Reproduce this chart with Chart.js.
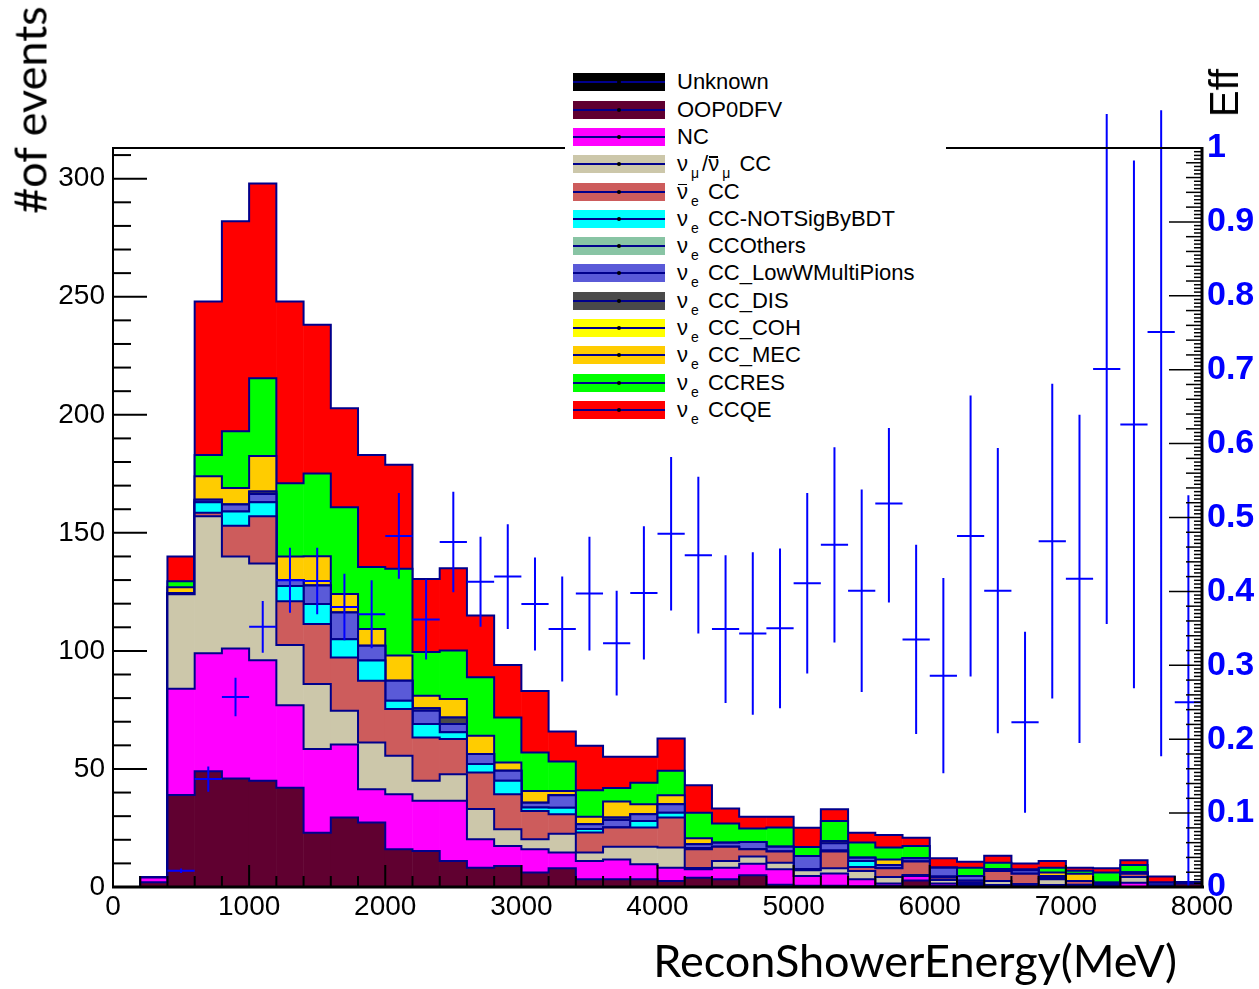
<!DOCTYPE html>
<html>
<head>
<meta charset="utf-8">
<script src="https://cdn.jsdelivr.net/npm/chart.js@4.4.0/dist/chart.umd.min.js"></script>
<style>
html,body{margin:0;padding:0;background:#fff;}
#wrap{position:relative;width:1259px;height:989px;overflow:hidden;background:#fff;}
#c{position:absolute;left:0;top:0;}
.title{position:absolute;white-space:nowrap;color:#000;}
#ytitle{left:30px;top:110px;transform:translate(-50%,-50%) rotate(-90deg);font-family:Lato,sans-serif;font-size:45px;line-height:45px;}
#xtitle{right:82px;top:938px;font-family:Lato,sans-serif;font-size:45px;line-height:45px;}
#efftitle{left:1224px;top:93px;transform:translate(-50%,-50%) rotate(-90deg);font-family:'Liberation Sans',Arial,sans-serif;font-size:40px;line-height:40px;}
#legend{position:absolute;left:565px;top:62px;width:381px;height:366px;background:#fff;}
.row{position:absolute;left:0;width:381px;height:27px;}
.sw{position:absolute;left:8px;top:0;width:92px;height:18px;}
.sw .ln{position:absolute;left:0;right:0;top:8px;height:2px;background:#00008c;}
.sw .dot{position:absolute;left:44px;top:7px;width:4px;height:4px;background:#000;border-radius:2px;}
.lab{position:absolute;left:112px;top:-2px;font-family:'Liberation Sans',Arial,sans-serif;font-size:22px;line-height:22px;white-space:nowrap;color:#000;}
.lab sub{font-size:14px;vertical-align:-7px;line-height:0;margin:0 3px 0 3px;}
.ob{position:relative;display:inline-block;}
.ob::after{content:'';position:absolute;left:1px;right:1px;top:3px;height:1.5px;background:#000;}
</style>
</head>
<body>
<div id="wrap">
<canvas id="c" width="1259" height="989"></canvas>
<div id="ytitle" class="title">#of events</div>
<div id="xtitle" class="title">ReconShowerEnergy(MeV)</div>
<div id="efftitle" class="title">Eff</div>
<div id="legend"></div>
</div>
<script>
// ---------------- data ----------------
const binLow    = [200,400,600,800,1000,1200,1400,1600,1800,2000,2200,2400,2600,2800,3000,3200,3400,3600,3800,4000,4200,4400,4600,4800,5000,5200,5400,5600,5800,6000,6200,6400,6600,6800,7000,7200,7400,7600,7800];
const binCenter = [300,500,700,900,1100,1300,1500,1700,1900,2100,2300,2500,2700,2900,3100,3300,3500,3700,3900,4100,4300,4500,4700,4900,5100,5300,5500,5700,5900,6100,6300,6500,6700,6900,7100,7300,7500,7700,7900];
const binHigh   = [400,600,800,1000,1200,1400,1600,1800,2000,2200,2400,2600,2800,3000,3200,3400,3600,3800,4000,4200,4400,4600,4800,5000,5200,5400,5600,5800,6000,6200,6400,6600,6800,7000,7200,7400,7600,7800,8000];

const unknownEv = [0,0,0,0,0,0,0,0,0,0,0,0,0,0,0,0,0,0,0,0,0,0,0,0,0,0,0,0,0,0,0,0,0,0,0,0,0,0,0];
const oopEv     = [2,39,49,46,45,42,23,29.4,27.3,16,15.3,11,8.2,8.9,6.1,7.9,3.3,3.3,3.3,2.5,3.9,3.3,5,1,0.5,0.5,0.3,0.5,2.8,0.5,0.5,0.3,0.3,0.3,0.2,0.2,0,0,1.5];
const ncEv      = [2,45,50,55,51,35,35.4,31,14.1,23.3,21.2,25.5,12,8.5,9.9,6.7,7.7,8.4,6.3,5.7,3.6,4.9,4.9,6.5,4.2,5.2,3,1,1.9,1,0.8,0.5,0.5,0.5,0.3,0.3,1.8,0.5,0.5];
const numuEv    = [0,40,58,39,41,25.5,27.6,14.2,19.8,16.3,8.5,11.3,12.8,7.1,4.2,8,3.6,5.3,7.4,8.5,0.5,2.8,3,2.8,2.4,2.2,3.5,2.7,0.4,1.5,0.6,1.7,0.5,2.5,0.5,0.3,2.4,0,0];
const nuebarEv  = [0,0.5,1.5,13,20,18.5,25.4,22.6,26.2,19.8,18.3,14.9,15.5,14.8,12,8.2,8.5,8.2,8.2,12.7,8,6,3.1,4.7,0.5,7.1,1.7,3.7,5.7,1,0.7,4.3,4.3,0.4,1.5,0.5,1.4,0,0];
const notSigEv  = [0,0,4.5,6,6,6.5,8.5,7.7,8.5,3.5,5.7,2.8,3.6,5.7,1.5,2.8,1.5,0,2.8,2.1,0.5,0,0,0,0,0.5,2.5,0,0,0.5,0,0,0,0,0,0,0,0,0];
const othersEv  = [0,0,0,0,0,0,0,0,0,0,0,0,0,0,0,0,0,0,0,0,0,0,0,0,0,0,0,0,0,0,0,0,0,0,0,0,0,0,0];
const lowWEv    = [0,0,1,3,3.5,2.5,7.8,11.4,6.3,8.5,5.7,3.5,4.2,4.2,2,5.3,2,3.2,2.8,3.6,1.6,1.7,3.1,2,5.5,3,1.4,1.4,1.4,3.7,2.1,0.7,1.5,1,0,0.5,0.5,1.3,0];
const disEv     = [0,0,0,0,1,0,0,0,0,0,1,2.8,0,0,0,0,0,1,0,0,0,0,0,0,0,1,0,0,0,0,0,0,0,0,0,0,0,0,0];
const cohEv     = [0,0,0,0,0,0,0,0,0,0,0,0,0,0,0,0,0,0,0,0,0,0,0,0,0,0,0,0,0,0,0,0,0,0,0,0,0,0,0];
const mecEv     = [0,2.5,10,7,15,10,12.4,7.8,7.1,10.6,5.3,7.8,7.8,3.5,5,1.8,3.2,6.8,4.3,3.8,2.6,0,0,0,0,0,0,2.4,0,0,0,0,0,1.4,3.1,0,0,0,0];
const resEv     = [0,2.5,9,24,33,31,35,36.7,26.2,36.8,18.5,20.6,24.7,19.1,16.3,12.5,11.2,5.7,9.1,10.3,10.8,8.2,5.7,8.2,3.8,8.5,6.4,5,5.2,0,3.5,2.8,0.4,2.1,1.3,4.3,3.2,0,0];
const qeEv      = [0,10.5,65,89,82.5,77,63,42,47.5,44,31,34.8,26.2,22.2,26,12.7,18.8,13.3,11,13.7,11.6,6.3,5,4.6,8.2,4.9,4.2,5.3,3.5,4,2.5,2.9,2.5,2.8,1.3,1.8,2,2.6,0];

const effVal     = [null,0.022,0.146,0.257,0.352,0.415,0.414,0.379,0.369,0.475,0.362,0.467,0.413,0.420,0.383,0.349,0.397,0.330,0.398,0.478,0.449,0.349,0.343,0.350,0.411,0.463,0.401,0.519,0.335,0.286,0.475,0.401,0.223,0.468,0.417,0.701,0.626,0.751,0.250];
const effErrLow  = [null,0.003,0.017,0.026,0.035,0.044,0.045,0.045,0.046,0.058,0.054,0.068,0.061,0.071,0.063,0.071,0.077,0.071,0.090,0.104,0.106,0.100,0.110,0.108,0.122,0.132,0.137,0.134,0.128,0.132,0.190,0.193,0.1225,0.213,0.222,0.345,0.357,0.574,0.250];
const effErrHigh = [null,0.003,0.017,0.026,0.035,0.044,0.045,0.045,0.046,0.058,0.054,0.068,0.061,0.071,0.063,0.071,0.077,0.071,0.090,0.104,0.106,0.100,0.110,0.108,0.122,0.132,0.137,0.134,0.128,0.132,0.190,0.193,0.1225,0.213,0.222,0.345,0.357,0.300,0.280];

const yTickStep = 50, xTickStep = 1000, effTickStep = 0.1;

const layerNames = ['Unknown','OOP0DFV','NC','numu CC','nuebar CC','nue CC-NOTSigByBDT','nue CCOthers','nue CC_LowWMultiPions','nue CC_DIS','nue CC_COH','nue CC_MEC','nue CCRES','nue CCQE'];
const layerData  = [unknownEv,oopEv,ncEv,numuEv,nuebarEv,notSigEv,othersEv,lowWEv,disEv,cohEv,mecEv,resEv,qeEv];
const layerColors = ['#000000','#600030','#ff00ff','#ccc7aa','#cd5c5c','#00ffff','#88c4a4','#5a5ad8','#4a4a4a','#ffff00','#ffcc00','#00ff00','#ff0000'];
const legendHtml = [
  'Unknown','OOP0DFV','NC',
  '&nu;<sub>&mu;</sub>/<span class="ob">&nu;</span><sub>&mu;</sub> CC',
  '<span class="ob">&nu;</span><sub>e</sub> CC',
  '&nu;<sub>e</sub> CC-NOTSigByBDT',
  '&nu;<sub>e</sub> CCOthers',
  '&nu;<sub>e</sub> CC_LowWMultiPions',
  '&nu;<sub>e</sub> CC_DIS',
  '&nu;<sub>e</sub> CC_COH',
  '&nu;<sub>e</sub> CC_MEC',
  '&nu;<sub>e</sub> CCRES',
  '&nu;<sub>e</sub> CCQE'
];

// ---------------- legend (HTML) ----------------
const legEl = document.getElementById('legend');
legendHtml.forEach((h, i) => {
  const row = document.createElement('div');
  row.className = 'row';
  row.style.top = (11.3 + 27.3 * i) + 'px';
  row.innerHTML = '<div class="sw" style="background:' + layerColors[i] + '"><i class="ln"></i><i class="dot"></i></div><div class="lab">' + h + '</div>';
  legEl.appendChild(row);
});

// ---------------- datasets ----------------
const FONT = "'Liberation Sans', Arial, sans-serif";
const NAVY = '#00008c';
const datasets = [];
const cum = binCenter.map(() => 0);
layerData.forEach((arr, k) => {
  datasets.push({
    type: 'bar', label: layerNames[k], yAxisID: 'y', order: 11 + 2 * k,
    data: binCenter.map((c, i) => ({x: c, y: arr[i]})),
    backgroundColor: layerColors[k], borderWidth: 0,
    barPercentage: 1.02, categoryPercentage: 1
  });
  arr.forEach((v, i) => { cum[i] += v; });
  const pts = [{x: binLow[0], y: 0}];
  binLow.forEach((lo, i) => pts.push({x: lo, y: cum[i]}));
  pts.push({x: binHigh[binHigh.length - 1], y: 0});
  datasets.push({
    type: 'line', label: layerNames[k] + ' outline', yAxisID: 'yo', order: 10 + 2 * k,
    data: pts, stepped: 'before', borderColor: NAVY, borderWidth: 2,
    pointRadius: 0, fill: false, borderJoinStyle: 'miter'
  });
});

const vErr = [], hErr = [];
binCenter.forEach((c, i) => {
  if (effVal[i] === null) return;
  vErr.push({x: c, y: effVal[i] - effErrLow[i]}, {x: c, y: effVal[i] + effErrHigh[i]}, {x: c, y: null});
  hErr.push({x: binLow[i], y: effVal[i]}, {x: binHigh[i], y: effVal[i]}, {x: binHigh[i], y: null});
});
datasets.push({type: 'line', label: 'Eff vertical', yAxisID: 'y2', order: 0, data: vErr,
  borderColor: '#0000ff', borderWidth: 2, pointRadius: 0, fill: false, spanGaps: false, clip: false});
datasets.push({type: 'line', label: 'Eff', yAxisID: 'y2', order: 0, data: hErr,
  borderColor: '#0000ff', borderWidth: 2, pointRadius: 0, fill: false, spanGaps: false, clip: false});

// ---------------- axes (ROOT style ticks and frame) ----------------
const rootAxes = {
  id: 'rootAxes',
  afterDatasetsDraw(chart) {
    const {ctx, chartArea: a, scales} = chart;
    const sx = scales.x, sy = scales.y, s2 = scales.y2;
    ctx.save();
    ctx.strokeStyle = '#000';
    ctx.lineCap = 'butt';
    const seg = (x1, y1, x2, y2, w) => { ctx.lineWidth = w; ctx.beginPath(); ctx.moveTo(x1, y1); ctx.lineTo(x2, y2); ctx.stroke(); };
    for (let v = 0; v <= sy.max; v += 10) {
      const p = sy.getPixelForValue(v);
      seg(a.left, p, a.left + (v % yTickStep === 0 ? 34 : 18), p, 2);
    }
    for (let v = 0; v <= sx.max; v += 200) {
      const p = sx.getPixelForValue(v);
      seg(p, a.bottom, p, a.bottom - (v % xTickStep === 0 ? 22 : 11), 2);
    }
    for (let k = 0; k <= 200; k++) {
      const p = s2.getPixelForValue(k / 200);
      const len = k % 20 === 0 ? 33 : (k % 4 === 0 ? 16 : 8);
      seg(a.right - len, p, a.right, p, 1.5);
    }
    seg(a.left, a.top, a.right, a.top, 2);
    seg(a.left, a.top - 1, a.left, a.bottom + 1, 2);
    seg(a.left - 1, a.bottom, a.right + 2, a.bottom, 3);
    seg(a.right, a.top - 1, a.right, a.bottom + 1, 3);
    ctx.restore();
  }
};

new Chart(document.getElementById('c'), {
  type: 'bar',
  data: {datasets},
  options: {
    responsive: false, animation: false, devicePixelRatio: 1, events: [],
    layout: {padding: {top: 148, left: 0, right: 0, bottom: 0}},
    plugins: {legend: {display: false}, tooltip: {enabled: false}},
    scales: {
      x: {type: 'linear', min: 0, max: 8000, offset: false, stacked: true,
          grid: {display: false, drawTicks: false, offset: false}, border: {display: false},
          ticks: {stepSize: xTickStep, padding: 3, color: '#000', font: {family: FONT, size: 28},
                  maxRotation: 0, autoSkip: false, callback: v => String(v)},
          afterFit(s) { s.height = 102; }},
      y: {type: 'linear', position: 'left', min: 0, max: 313, stacked: true,
          grid: {display: false, drawTicks: false}, border: {display: false},
          ticks: {stepSize: yTickStep, includeBounds: false, padding: 8, color: '#000', font: {family: FONT, size: 28}},
          afterFit(s) { s.width = 113; }},
      yo: {type: 'linear', display: false, min: 0, max: 313, stacked: false},
      y2: {type: 'linear', position: 'right', min: 0, max: 1, stacked: false,
           grid: {display: false, drawTicks: false}, border: {display: false},
           ticks: {stepSize: effTickStep, includeBounds: false, padding: 5, color: '#0000ff',
                   font: {family: FONT, size: 34, weight: 'bold'}, autoSkip: false,
                   callback: v => String(Math.round(v * 10) / 10)},
           afterFit(s) { s.width = 57; }}
    }
  },
  plugins: [rootAxes]
});
</script>
</body>
</html>
